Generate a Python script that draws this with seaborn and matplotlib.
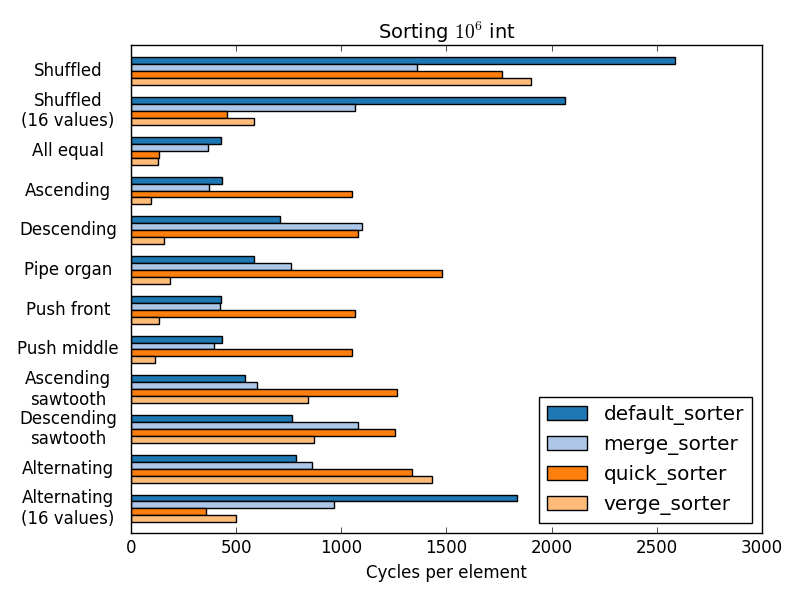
import matplotlib
matplotlib.use("Agg")
import matplotlib.pyplot as plt
import seaborn as sns
import pandas as pd

patterns = ["Shuffled", "Shuffled\n(16 values)", "All equal", "Ascending", "Descending",
            "Pipe organ", "Push front", "Push middle", "Ascending\nsawtooth",
            "Descending\nsawtooth", "Alternating", "Alternating\n(16 values)"]
sorters = ["default_sorter", "merge_sorter", "quick_sorter", "verge_sorter"]

default_sorter = [2585, 2065, 428, 434, 709, 585, 428, 432, 542, 764, 784, 1835]
merge_sorter = [1358, 1063, 366, 370, 1097, 761, 422, 393, 598, 1081, 859, 967]
quick_sorter = [1765, 455, 132, 1049, 1078, 1480, 1066, 1052, 1267, 1257, 1336, 357]
verge_sorter = [1902, 585, 129, 96, 158, 187, 134, 115, 840, 868, 1431, 500]

colors = ["#1f77b4", "#aec7e8", "#ff7f0e", "#ffbb78"]

values = {"default_sorter": default_sorter, "merge_sorter": merge_sorter,
          "quick_sorter": quick_sorter, "verge_sorter": verge_sorter}
rows = []
for s in sorters:
    for p, v in zip(patterns, values[s]):
        rows.append({"pattern": p, "sorter": s, "cycles": v})
df = pd.DataFrame(rows)

plt.style.use("classic")
plt.rcParams["figure.facecolor"] = "white"
plt.rcParams["savefig.facecolor"] = "white"
plt.rcParams["mathtext.fontset"] = "cm"

fig = plt.figure(figsize=(8, 5.97), dpi=100)
ax = fig.add_axes([0.16375, 0.1064, 0.78875, 0.8174])

sns.barplot(data=df, y="pattern", x="cycles", hue="sorter", order=patterns,
            hue_order=sorters, orient="h", width=0.7, saturation=1,
            palette=colors, edgecolor="black", linewidth=1, ax=ax)

ax.set_xlim(0, 3000)
ax.set_ylim(11.63, -0.65)
ax.set_xticks([0, 500, 1000, 1500, 2000, 2500, 3000])
ax.set_xlabel("Cycles per element", fontsize=12)
ax.set_ylabel("")
ax.set_title("Sorting $10^6$ int", fontsize=14)

ax.tick_params(axis="y", which="both", left=False, right=False, pad=45.4)
for lbl in ax.get_yticklabels():
    lbl.set_horizontalalignment("center")
    lbl.set_multialignment("center")
ax.tick_params(axis="x", which="both", direction="in", top=True, bottom=True)

handles, labels = ax.get_legend_handles_labels()
ax.legend(handles, labels, loc="lower right", title=None, fancybox=False,
          fontsize=14.4, frameon=True)

fig.savefig("out.png", dpi=100)
